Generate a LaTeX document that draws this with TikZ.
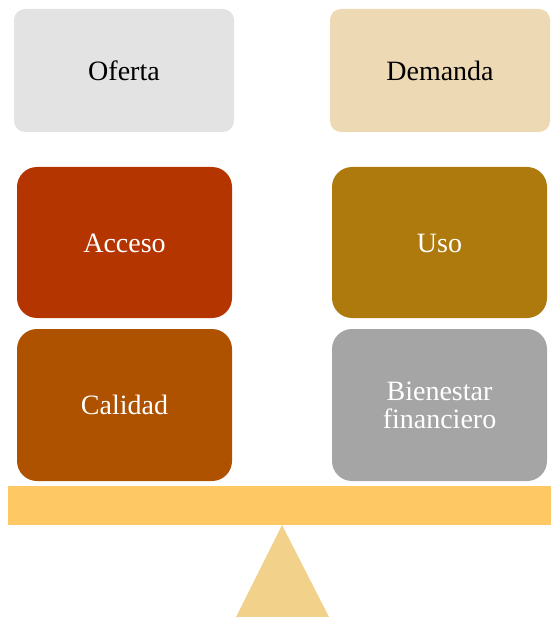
\documentclass[tikz,border=0pt]{standalone}
\usepackage{fontspec}
\setmainfont{Liberation Serif}
\definecolor{cOferta}{HTML}{E3E3E3}
\definecolor{cDemanda}{HTML}{EDDAB5}
\definecolor{cAcceso}{HTML}{B43500}
\definecolor{cUso}{HTML}{AF7A0D}
\definecolor{cCalidad}{HTML}{AE5200}
\definecolor{cBien}{HTML}{A5A5A5}
\definecolor{cBeam}{HTML}{FEC864}
\definecolor{cTri}{HTML}{F2D18A}
\begin{document}
\begin{tikzpicture}[x=1pt,y=-1pt,
  topbox/.style={rounded corners=11pt,draw=none},
  midbox/.style={rounded corners=20pt,draw=none},
  lbl/.style={font=\fontsize{28}{28}\selectfont,align=center,inner sep=0pt}]
\useasboundingbox (0,0) rectangle (551,617);
\fill[cOferta,topbox] (14,9) rectangle (234,132);
\node[lbl,text=black] (oferta) at (124,71) {Oferta};
\fill[cDemanda,topbox] (330,9) rectangle (550,132);
\node[lbl,text=black] (demanda) at (440,71) {Demanda};
\fill[cAcceso,midbox] (17,167) rectangle (232,318);
\node[lbl,text=white] (acceso) at (124.5,243) {Acceso};
\fill[cUso,midbox] (332,167) rectangle (547,318);
\node[lbl,text=white] (uso) at (439.5,243) {Uso};
\fill[cCalidad,midbox] (17,329) rectangle (232,481);
\node[lbl,text=white] (calidad) at (124.5,405) {Calidad};
\fill[cBien,midbox] (332,329) rectangle (547,481);
\node[lbl,text=white] (bien) at (439.5,405) {Bienestar\\financiero};
\fill[cBeam] (8,486) rectangle (551,525);
\fill[cTri] (282,525) -- (329,617) -- (236,617) -- cycle;
\end{tikzpicture}
\end{document}
